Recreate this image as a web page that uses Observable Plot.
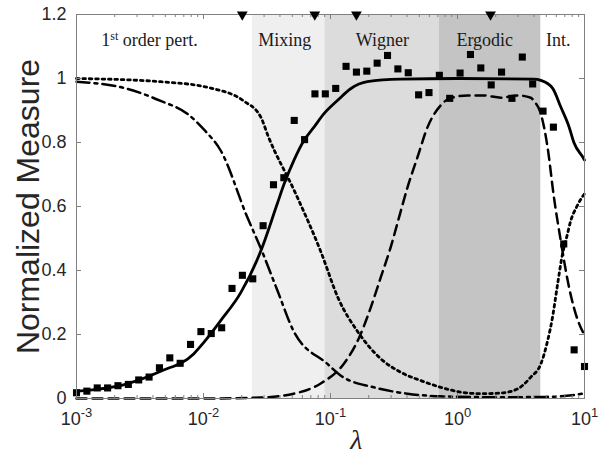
<!DOCTYPE html>
<html><head><meta charset="utf-8">
<script src="https://cdn.jsdelivr.net/npm/d3@7"></script>
<script src="https://cdn.jsdelivr.net/npm/@observablehq/plot@0.6"></script>
<style>body{margin:0;background:#fff}</style>
</head><body><div id="chart"></div>
<script>
// marker positions (lambda) and measured values
const markerLambda = [0.001,0.001207,0.001456,0.001758,0.002121,0.00256,0.003089,0.003728,0.004498,0.005429,
  0.006551,0.007906,0.009541,0.01151,0.0139,0.01677,0.02024,0.02442,0.02947,0.03557,
  0.04292,0.0518,0.06251,0.07543,0.09103,0.1099,0.1326,0.16,0.1931,0.233,
  0.2812,0.3393,0.4095,0.4942,0.5964,0.7197,0.8685,1.048,1.265,1.526,
  1.842,2.223,2.683,3.237,3.907,4.715,5.69,6.866,8.286,10];
const markerValue = [0.018,0.023,0.033,0.033,0.040,0.044,0.058,0.067,0.096,0.127,
  0.110,0.169,0.209,0.203,0.221,0.344,0.385,0.374,0.540,0.668,
  0.690,0.869,0.809,0.952,0.952,0.969,1.038,1.020,1.023,1.048,
  1.072,1.030,1.018,0.949,0.956,1.010,0.938,1.017,1.075,1.033,
  0.980,1.020,0.938,1.067,0.983,0.898,0.848,0.483,0.152,0.100];

// curves
const solidX = [0.001,0.0025,0.0046,0.0084,0.0101,0.0137,0.0196,0.0282,0.0382,0.0431,0.0515,0.0618,0.0741,0.0889,0.1133,0.144,0.195,0.357,1.0,3.99,4.53,5.6,6.52,7.54,8.25,9.84,10];
const solidY = [0.023,0.046,0.085,0.14,0.176,0.244,0.33,0.46,0.61,0.67,0.744,0.806,0.848,0.89,0.931,0.968,0.99,0.998,1.0,0.998,0.994,0.97,0.91,0.85,0.80,0.75,0.745];

const dashX = [0.001,0.01,0.028,0.0513,0.0837,0.127,0.168,0.2077,0.249,0.298,0.347,0.404,0.484,0.581,0.738,0.859,1.2,1.61,2.19,2.97,3.78,3.99,4.53,5.12,5.74,6.52,7.36,8.24,9.66,10];
const dashY = [0.0,0.0,0.003,0.015,0.047,0.108,0.19,0.285,0.379,0.473,0.567,0.66,0.754,0.848,0.916,0.937,0.947,0.947,0.94,0.947,0.94,0.93,0.89,0.785,0.63,0.49,0.37,0.285,0.21,0.2];

const dotX = [0.001,0.0046,0.0114,0.0207,0.0282,0.0325,0.0525,0.0837,0.116,0.163,0.249,0.357,0.514,0.738,1.06,1.53,2.19,2.97,3.78,4.53,5.12,5.6,6.1,6.7,7.3,7.8,8.7,10];
const dotY = [1.0,0.99,0.97,0.93,0.88,0.817,0.645,0.46,0.31,0.21,0.124,0.082,0.056,0.035,0.02,0.015,0.017,0.03,0.067,0.108,0.18,0.254,0.35,0.45,0.51,0.556,0.60,0.64];

const dashDotX = [0.001,0.0025,0.0046,0.00745,0.0101,0.01365,0.0221,0.0282,0.0382,0.0513,0.0946,0.12,0.219,0.404,0.72,2,5,8,10];
const dashDotY = [0.99,0.968,0.93,0.89,0.84,0.775,0.567,0.47,0.3375,0.21,0.108,0.072,0.035,0.015,0.007,0.004,0.005,0.01,0.016];

// regimes
const regionNames = ["Mixing","Wigner","Ergodic"];
const regionStart = [0.02424,0.0905,0.721];
const regionEnd = [0.0905,0.721,4.53];
const regionFill = ["#efefef","#dcdcdc","#c4c4c4"];

const labelText = ["1st order pert.","Mixing","Wigner","Ergodic","Int."];
const labelLambda = [0.00376,0.0436,0.2565,1.64,6.22];

const triangleLambda = [0.0202,0.0752,0.16,1.82];

const xMajor = [0.001,0.01,0.1,1,10];
const xMinor = [];
for (const d of [0.001,0.01,0.1,1]) for (let k = 2; k <= 9; k++) xMinor.push(+(d*k).toPrecision(3));
const yTicks = [0,0.2,0.4,0.6,0.8,1,1.2];

const toRows = (xs, ys) => xs.map((x, i) => ({x, y: ys[i]}));
const regions = regionNames.map((n, i) => ({n, x1: regionStart[i], x2: regionEnd[i], fill: regionFill[i]}));
const labels = labelText.map((t, i) => ({t, x: labelLambda[i]}));

const W = 602, H = 460, mL = 76, mR = 18, mT = 14, mB = 62;
const fw = W - mL - mR, fh = H - mT - mB;
const axisColor = "#808080", textColor = "#262626";
const sans = "'Liberation Sans', Arial, Helvetica, sans-serif";
const serif = "'Liberation Serif', 'DejaVu Serif', serif";

const chart = Plot.plot({
  width: W, height: H,
  marginLeft: mL, marginRight: mR, marginTop: mT, marginBottom: mB,
  x: {type: "log", domain: [0.001, 10], axis: null},
  y: {domain: [0, 1.2], axis: null},
  style: {background: "white"},
  marks: [
    Plot.rect(regions, {x1: "x1", x2: "x2", y1: 0, y2: 1.2, fill: "fill"}),
    Plot.line(toRows(dashDotX, dashDotY), {x: "x", y: "y", curve: "monotone-x", stroke: "black", strokeWidth: 2.5, strokeDasharray: "13,5,3,5"}),
    Plot.line(toRows(dotX, dotY), {x: "x", y: "y", curve: "monotone-x", stroke: "black", strokeWidth: 2.8, strokeDasharray: "2.6,3.8"}),
    Plot.line(toRows(dashX, dashY), {x: "x", y: "y", curve: "monotone-x", stroke: "black", strokeWidth: 2.5, strokeDasharray: "10,6"}),
    Plot.line(toRows(solidX, solidY), {x: "x", y: "y", curve: "monotone-x", stroke: "black", strokeWidth: 2.8}),
    Plot.dot(toRows(markerLambda, markerValue), {x: "x", y: "y", symbol: "square", r: 4, fill: "black", stroke: "none"}),
    Plot.frame({stroke: axisColor, strokeWidth: 1}),
    // ticks (inward)
    Plot.tickX(xMajor, {x: d => d, insetTop: fh - 5, stroke: axisColor}),
    Plot.tickX(xMajor, {x: d => d, insetBottom: fh - 5, stroke: axisColor}),
    Plot.tickX(xMinor, {x: d => d, insetTop: fh - 3, stroke: axisColor}),
    Plot.tickX(xMinor, {x: d => d, insetBottom: fh - 3, stroke: axisColor}),
    Plot.tickY(yTicks, {y: d => d, insetRight: fw - 5, stroke: axisColor}),
    Plot.tickY(yTicks, {y: d => d, insetLeft: fw - 5, stroke: axisColor}),
    Plot.dot(triangleLambda, {x: d => d, y: 1.2, symbol: "triangle", rotate: 180, r: 4, fill: "black", stroke: "none"}),
    // tick labels
    Plot.text(xMajor, {x: d => d, y: 0, text: d => "10^" + Math.round(Math.log10(d)), dy: 21, fontSize: 18, fontFamily: sans, fill: textColor}),
    Plot.text(yTicks, {x: 0.001, y: d => d, text: d => String(+d.toFixed(1)), textAnchor: "end", dx: -10, fontSize: 18, fontFamily: sans, fill: textColor}),
    // axis titles
    Plot.text(["Normalized Measure"], {frameAnchor: "left", textAnchor: "middle", rotate: -90, dx: -48, fontSize: 32, fontFamily: sans, fill: textColor}),
    Plot.text(["λ"], {x: 0.16, y: 0, dy: 42, fontSize: 28, fontStyle: "italic", fontFamily: serif, fill: textColor}),
    // regime labels
    Plot.text(labels, {x: "x", y: 1.119, text: "t", fontSize: 18, fontFamily: serif, fill: "#1a1a1a"})
  ]
});

const NS = "http://www.w3.org/2000/svg";
chart.querySelectorAll("text").forEach(t => {
  const s = t.textContent;
  if (s.startsWith("10^")) {
    const exp = s.slice(3);
    t.textContent = "10";
    const ts = document.createElementNS(NS, "tspan");
    ts.setAttribute("dy", "-8");
    ts.setAttribute("font-size", "13");
    ts.textContent = exp;
    t.appendChild(ts);
  } else if (s === "1st order pert.") {
    t.textContent = "1";
    const a = document.createElementNS(NS, "tspan");
    a.setAttribute("dy", "-6"); a.setAttribute("font-size", "12"); a.textContent = "st";
    const b = document.createElementNS(NS, "tspan");
    b.setAttribute("dy", "6"); b.textContent = " order pert.";
    t.appendChild(a); t.appendChild(b);
  }
});
document.getElementById("chart").appendChild(chart);
</script>
</body></html>
